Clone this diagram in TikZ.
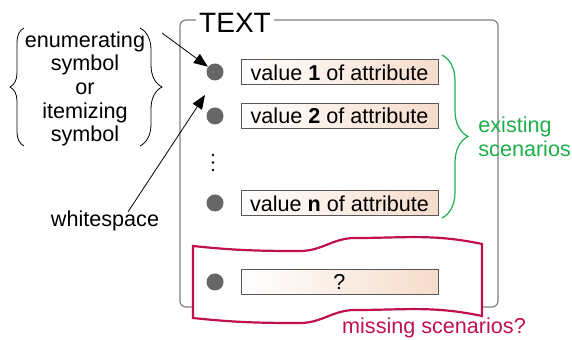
\documentclass[tikz,border=0pt]{standalone}
\usepackage{fontspec}
\setmainfont{Liberation Sans}
\usepackage{xcolor}
\usetikzlibrary{arrows.meta,decorations.pathreplacing}
\definecolor{MissRed}{HTML}{C0114E}
\definecolor{ExistGreen}{HTML}{1EAE4A}
\definecolor{Peach}{HTML}{F6DCCB}
\definecolor{BulletGray}{HTML}{666666}

\begin{document}
\begin{tikzpicture}[x=0.5pt,y=0.5pt,
        every node/.style={font=\fontsize{10.8}{11.8}\selectfont},
        bulletdot/.style={circle,fill=BulletGray,minimum size=8.5pt,inner sep=0pt},
        valbox/.style={draw=black!65,line width=0.5pt,left color=white,right color=Peach,minimum width=98.5pt,minimum height=12.5pt,inner sep=0pt},
        arr/.style={-{Triangle[length=7pt,width=5.5pt]}},
        curly/.style={decorate,decoration={brace,amplitude=#1}}]
        \useasboundingbox (0,0) rectangle (572,-340);

        \draw[black!50,line width=0.6pt,rounded corners=3pt] (180,-20) rectangle (498,-307);
        \node[fill=white,inner sep=1.5pt,font=\fontsize{14}{16}\selectfont] (title) at (235,-23) {TEXT};

        \draw[MissRed,line width=1.1pt,fill=white] (193,-246) to[out=-6,in=180] (300,-251) to[out=0,in=180] (355,-238)
            to[out=0,in=168] (482,-244) -- (482,-316) to[out=168,in=0] (355,-310) to[out=180,in=0] (300,-323)
            to[out=180,in=-6] (193,-318) -- cycle;

        \node[bulletdot] (b1) at (215,-72) {};
        \node[bulletdot] (b2) at (215,-116) {};
        \foreach \y in {155,162.5,170}
            \fill (213,-\y) circle (1.4);
        \node[bulletdot] (bn) at (215,-203) {};
        \node[bulletdot] (bq) at (215,-282) {};

        \node[valbox] (v1) at (339.5,-72.5) {value \textbf{1} of attribute};
        \node[valbox] (v2) at (339.5,-116) {value \textbf{2} of attribute};
        \node[valbox] (vn) at (339.5,-203.5) {value \textbf{n} of attribute};
        \node[valbox] (vq) at (339.5,-282) {?};

        \draw[ExistGreen,line width=0.6pt,curly=13pt] (442,-55) -- (442,-218);
        \node[ExistGreen,align=left,anchor=west,inner sep=1pt] (exist) at (476,-137) {existing\\scenarios};
        \node[MissRed,inner sep=1pt] (miss) at (434,-328) {missing scenarios?};

        \node[align=center,inner sep=1pt] (enum) at (85,-89) {enumerating\\symbol\\or\\itemizing\\symbol};
        \draw[curly=7pt] (24,-146) -- (24,-28);
        \draw[curly=11pt] (140,-28) -- (140,-146);
        \coordinate (enumtip) at (162,-33);
        \draw[arr] (enumtip) -- (b1);

        \node (ws) at (105,-221) {whitespace};
        \coordinate (gap) at (205,-95);
        \draw[arr] ([xshift=11.5pt,yshift=-4pt]ws.north) -- (gap);
    \end{tikzpicture}
\end{document}
